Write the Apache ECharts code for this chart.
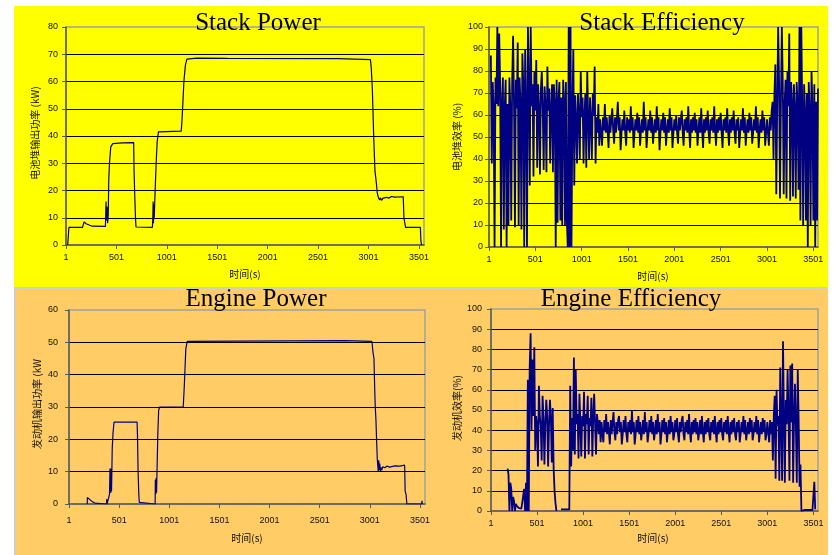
<!DOCTYPE html>
<html>
<head>
<meta charset="utf-8">
<script src="https://cdn.jsdelivr.net/npm/echarts@6/dist/echarts.min.js"></script>
<style>
html,body{margin:0;padding:0;background:#fff;}
#chart{width:834px;height:555px;}
</style>
</head>
<body>
<div id="chart"></div>
<script>
// ---------------- DATA ----------------
const chartTitles = ['Stack Power', 'Stack Efficiency', 'Engine Power', 'Engine Efficiency'];
const yAxisTitles = ['电池堆输出功率 (kW)', '电池堆效率 (%)', '发动机输出功率 (kW', '发动机效率(%)'];
const xAxisTitle = '时间(s)';
const xTickStart = 1;      // first tick label "1"
const xTickStep = 500;     // labels 1, 501, 1001 ... 3501
const xEnd = 3551;
const yMaxes = [80, 100, 60, 100];
const yStep = 10;

// Stack power: time (s) / kW breakpoints
const stackPowerT = [18, 30, 165, 180, 200, 260, 392, 398, 402, 408, 414, 420, 425, 432, 445, 465, 560, 672, 676, 683, 690, 695,
  858, 862, 865, 868, 872, 876, 885, 895, 905, 918, 1143, 1150, 1160, 1170, 1185, 1200, 1300, 1310, 1600, 1610, 2700, 2710, 3020,
  3028, 3039, 3052, 3065, 3078, 3088, 3098, 3110, 3120, 3130, 3145, 3160, 3180, 3200, 3230, 3260, 3345, 3352, 3360, 3368, 3515, 3520, 3527];
const stackPowerKW = [0, 6.5, 6.5, 8.5, 7.8, 6.9, 6.8, 16, 9, 14, 8, 11, 24, 30, 36, 37.2, 37.5, 37.6, 27, 18, 10, 6.6,
  6.5, 10, 16, 8, 15, 10, 20, 30, 38, 41.5, 41.8, 45, 52, 60, 66, 68.2, 68.6, 68.2, 68.5, 68.1, 68.4, 68, 68,
  65, 57, 40, 27, 23, 19, 17.5, 16.5, 17.3, 16.4, 17.2, 16.8, 17.5, 17.2, 17.8, 17.6, 17.7, 10, 10, 6.5, 6.5, 1.5, 0];

// Engine power: time (s) / kW breakpoints
const enginePowerT = [183, 184, 200, 230, 260, 275, 375, 377, 380, 405, 410, 413, 416, 419, 422, 425, 432, 440, 450, 680, 684, 690, 697, 702, 706,
  860, 862, 866, 870, 874, 880, 887, 895, 905, 1140, 1150, 1158, 1166, 1180, 2750, 2760, 3022, 3032, 3042, 3050, 3055, 3062, 3068, 3075, 3085,
  3090, 3095, 3100, 3105, 3112, 3118, 3130, 3150, 3170, 3200, 3250, 3300, 3348, 3353, 3362, 3370, 3518, 3521, 3524];
const enginePowerKW = [0, 2, 1.5, 0.8, 0.3, 0, 0, 1.5, 0, 3, 11, 3.5, 10, 3.5, 11, 4, 17, 22, 25.3, 25.3, 21, 10, 3, 0.5, 0,
  0, 7.5, 3, 8, 3.5, 4, 22, 29, 30, 30, 36, 42, 48, 50.3, 50.5, 50.3, 50.3, 47, 45, 35, 30, 26, 20, 14, 10,
  13.5, 10.5, 12.5, 10.2, 11.3, 10.4, 11.5, 11.2, 11.7, 11.4, 11.8, 11.7, 12, 4, 3, 0, 0, 1, 0];

// Efficiency traces, one reading every 10 s starting at t = 1
const effSampleStep = 10;
const stackEff = [
  null, null, 87, 38, 75, 64, 0, 77, 65, 100,
  64, 97, 75, 0, 66, 77, 8, 64, 76, 0,
  65, 10, 77, 64, 12, 75, 96, 64, 9, 76,
  63, 93, 10, 77, 65, 8, 88, 74, 0, 90,
  64, 0, 100, 76, 28, 100, 64, 74, 32, 80,
  62, 85, 36, 74, 63, 33, 72, 80, 62, 35,
  73, 64, 34, 82, 62, 72, 38, 63, 74, 34,
  74, 66, 0, 76, 11, 67, 75, 12, 68, 10,
  76, 67, 10, 75, 12, 0, 100, 0, 100, 0,
  62, 90, 28, 69, 58, 38, 70, 60, 40, 80,
  59, 68, 38, 60, 70, 36, 80, 59, 40, 68,
  58, 40, 70, 60, 82, 38, 59, 52, 65, 46,
  58, 52, 46, 59, 53, 65, 52, 59, 53, 45,
  60, 52, 58, 63, 53, 47, 59, 52, 58, 66,
  53, 59, 44, 52, 58, 53, 62, 52, 46, 59,
  53, 58, 52, 64, 53, 59, 45, 52, 58, 53,
  61, 52, 59, 46, 53, 58, 52, 66, 53, 59,
  45, 52, 58, 53, 62, 52, 59, 47, 53, 58,
  52, 64, 53, 59, 44, 52, 58, 53, 61, 52,
  59, 46, 53, 58, 52, 63, 53, 59, 45, 52,
  58, 53, 60, 52, 47, 59, 53, 58, 62, 52,
  46, 58, 53, 59, 52, 64, 53, 45, 58, 52,
  59, 53, 61, 52, 58, 46, 53, 59, 52, 63,
  53, 45, 58, 52, 59, 53, 62, 52, 47, 58,
  53, 59, 52, 64, 53, 46, 58, 52, 59, 53,
  61, 52, 45, 58, 53, 59, 52, 63, 53, 46,
  58, 52, 59, 53, 62, 52, 47, 58, 53, 59,
  45, 52, 58, 53, 63, 52, 59, 46, 53, 58,
  52, 61, 53, 59, 47, 52, 58, 53, 64, 52,
  59, 45, 53, 58, 52, 62, 53, 59, 46, 52,
  58, 52, 46, 59, 53, 62, 66, 40, 70, 83,
  24, 64, 100, 75, 22, 66, 100, 74, 24, 65,
  76, 22, 80, 64, 97, 21, 75, 66, 23, 74,
  63, 22, 75, 64, 26, 100, 12, 100, 63, 10,
  74, 62, 12, 70, 0, 75, 63, 10, 80, 64,
  12, 74, 0, 66, 12, 72
];
const engineEff = [
  null, null, null, null, null, null, null, null, null, null,
  null, null, null, null, null, null, null, null, 21, 18,
  0, 14, 11, 0, 7, 5, 0, 3.5, 2.5, 2,
  1.5, 1.5, 1, 1.2, 1, 1, 11, 0, 14, 0,
  65, 0, 71, 88, 40, 75, 47, 81, 30, 47,
  42, 22, 62, 47, 42, 25, 57, 46, 23, 43,
  55, 47, 22, 43, 55, 46, 24, 51, 21, 10,
  4, 0, null, null, null, null, 0.8, 0.8, 0.8, 0.8,
  0.8, 0.8, 0.8, 0.8, 0.8, 0.8, 62, 22, 46, 30,
  76, 28, 70, 43, 48, 26, 58, 44, 27, 47,
  42, 59, 26, 48, 43, 57, 28, 46, 42, 56,
  27, 47, 58, 43, 28, 48, 44, 38, 45, 34,
  44, 38, 34, 45, 39, 48, 38, 44, 39, 33,
  45, 38, 44, 49, 39, 35, 44, 38, 45, 47,
  39, 44, 33, 38, 45, 39, 47, 38, 34, 44,
  39, 45, 38, 50, 39, 44, 33, 38, 45, 39,
  47, 38, 44, 35, 39, 45, 38, 49, 39, 44,
  34, 38, 45, 39, 47, 38, 44, 35, 39, 45,
  38, 48, 39, 44, 33, 38, 45, 39, 46, 38,
  44, 34, 39, 45, 38, 47, 39, 44, 35, 38,
  45, 39, 46, 38, 34, 44, 39, 45, 47, 38,
  35, 44, 39, 45, 38, 48, 39, 34, 44, 38,
  45, 39, 46, 38, 44, 35, 39, 45, 38, 47,
  39, 34, 44, 38, 45, 39, 46, 38, 35, 44,
  39, 45, 38, 47, 39, 34, 44, 38, 45, 39,
  46, 38, 35, 44, 39, 45, 38, 47, 39, 34,
  44, 38, 45, 39, 46, 38, 35, 44, 39, 45,
  34, 38, 44, 39, 47, 38, 45, 35, 39, 44,
  38, 46, 39, 45, 35, 38, 44, 39, 47, 38,
  45, 34, 39, 44, 38, 46, 39, 45, 35, 38,
  44, 39, 34, 45, 38, 44, 25, 47, 57, 16,
  60, 42, 47, 15, 71, 44, 15, 84, 46, 14,
  55, 43, 70, 47, 15, 72, 44, 73, 14, 46,
  63, 42, 14, 70, 45, 12, 23, 0, 0.5, 0.5,
  0.5, 0.5, 0.5, 0.5, 0.5, 0.5, 0.5, 0.5, 0.5, 0.5,
  0.8, 14.5, 0.8, null, null, null
];

// ---------------- LAYOUT ----------------
const grids = [
  {left: 66, top: 27, width: 358, height: 218, xMargin: 8, yMargin: 8},
  {left: 489, top: 27, width: 329, height: 220, xMargin: 8, yMargin: 6},
  {left: 69, top: 310, width: 356, height: 194, xMargin: 12, yMargin: 11},
  {left: 491, top: 309, width: 327, height: 202, xMargin: 8, yMargin: 9}
];
const titlePos = [[258, 23], [662, 23], [256, 299], [631, 299]];
const yTitlePos = [[35, 133], [457, 137], [37, 404], [457, 408]];
const xTitlePos = [[245, 274], [653, 276], [247, 538], [653, 538]];
const lineWidths = [1.2, 1.8, 1.2, 1.8];

const pairs = (ts, vs) => ts.map((t, i) => [t, vs[i]]);
const effT = stackEff.map((_, i) => xTickStart + i * effSampleStep);
const seriesData = [
  pairs(stackPowerT, stackPowerKW),
  pairs(effT, stackEff),
  pairs(enginePowerT, enginePowerKW),
  pairs(effT, engineEff)
];

const labelFont = {fontFamily: 'Liberation Sans, Arial, sans-serif', fontSize: 9, color: '#111'};
const axisCol = '#5a5a50';

const option = {
  animation: false,
  backgroundColor: '#ffffff',
  grid: grids.map(g => ({left: g.left, top: g.top, width: g.width, height: g.height, show: true,
    borderColor: '#a0a0a0', borderWidth: 1.5, backgroundColor: 'transparent', containLabel: false})),
  xAxis: grids.map((g, i) => ({
    type: 'value', gridIndex: i, min: xTickStart, max: xEnd, interval: xTickStep,
    axisLine: {show: true, onZero: false, lineStyle: {color: axisCol, width: 1.5}},
    axisTick: {show: true, length: 4, lineStyle: {color: axisCol, width: 1}},
    axisLabel: Object.assign({margin: g.xMargin, showMaxLabel: false, formatter: v => String(v)}, labelFont),
    splitLine: {show: false}
  })),
  yAxis: grids.map((g, i) => ({
    type: 'value', gridIndex: i, min: 0, max: yMaxes[i], interval: yStep,
    axisLine: {show: true, lineStyle: {color: axisCol, width: 1.5}},
    axisTick: {show: true, length: 4, lineStyle: {color: axisCol, width: 1}},
    axisLabel: Object.assign({margin: g.yMargin, formatter: v => String(v)}, labelFont),
    splitLine: {show: true, showMinLine: false, showMaxLine: false, lineStyle: {color: '#000', width: 1}}
  })),
  series: seriesData.map((d, i) => ({
    type: 'line', xAxisIndex: i, yAxisIndex: i, data: d,
    showSymbol: false, symbol: 'none', connectNulls: false, clip: true,
    lineStyle: {color: '#000080', width: lineWidths[i]}, z: 3
  })),
  graphic: [
    {type: 'rect', z: -100, silent: true, shape: {x: 14, y: 6, width: 814, height: 281}, style: {fill: '#ffff00'}},
    {type: 'rect', z: -100, silent: true, shape: {x: 14, y: 287, width: 814, height: 2}, style: {fill: '#d0d0c0'}},
    {type: 'rect', z: -100, silent: true, shape: {x: 14, y: 289, width: 814, height: 266}, style: {fill: '#ffcc66'}},
    {type: 'rect', z: -99, silent: true, shape: {x: 14, y: 289, width: 1.5, height: 266}, style: {fill: '#c8c8e0'}},
    ...chartTitles.map((t, i) => ({type: 'text', z: 50, silent: true, x: titlePos[i][0], y: titlePos[i][1],
      style: {text: t, fontFamily: 'Liberation Serif, Times New Roman, serif', fontSize: 25, fill: '#000',
        align: 'center', verticalAlign: 'middle'}})),
    ...yAxisTitles.map((t, i) => ({type: 'text', z: 50, silent: true, x: yTitlePos[i][0], y: yTitlePos[i][1], rotation: Math.PI / 2,
      style: {text: t, fontFamily: 'Noto Sans CJK SC, sans-serif', fontSize: 10, fill: '#111',
        align: 'center', verticalAlign: 'middle'}})),
    ...xTitlePos.map((p, i) => ({type: 'text', z: 50, silent: true, x: p[0], y: p[1],
      style: {text: xAxisTitle, fontFamily: 'Noto Sans CJK SC, sans-serif', fontSize: 10, fill: '#111',
        align: 'center', verticalAlign: 'middle'}}))
  ]
};

const chart = echarts.init(document.getElementById('chart'), null, {renderer: 'canvas'});
chart.setOption(option);
</script>
</body>
</html>
